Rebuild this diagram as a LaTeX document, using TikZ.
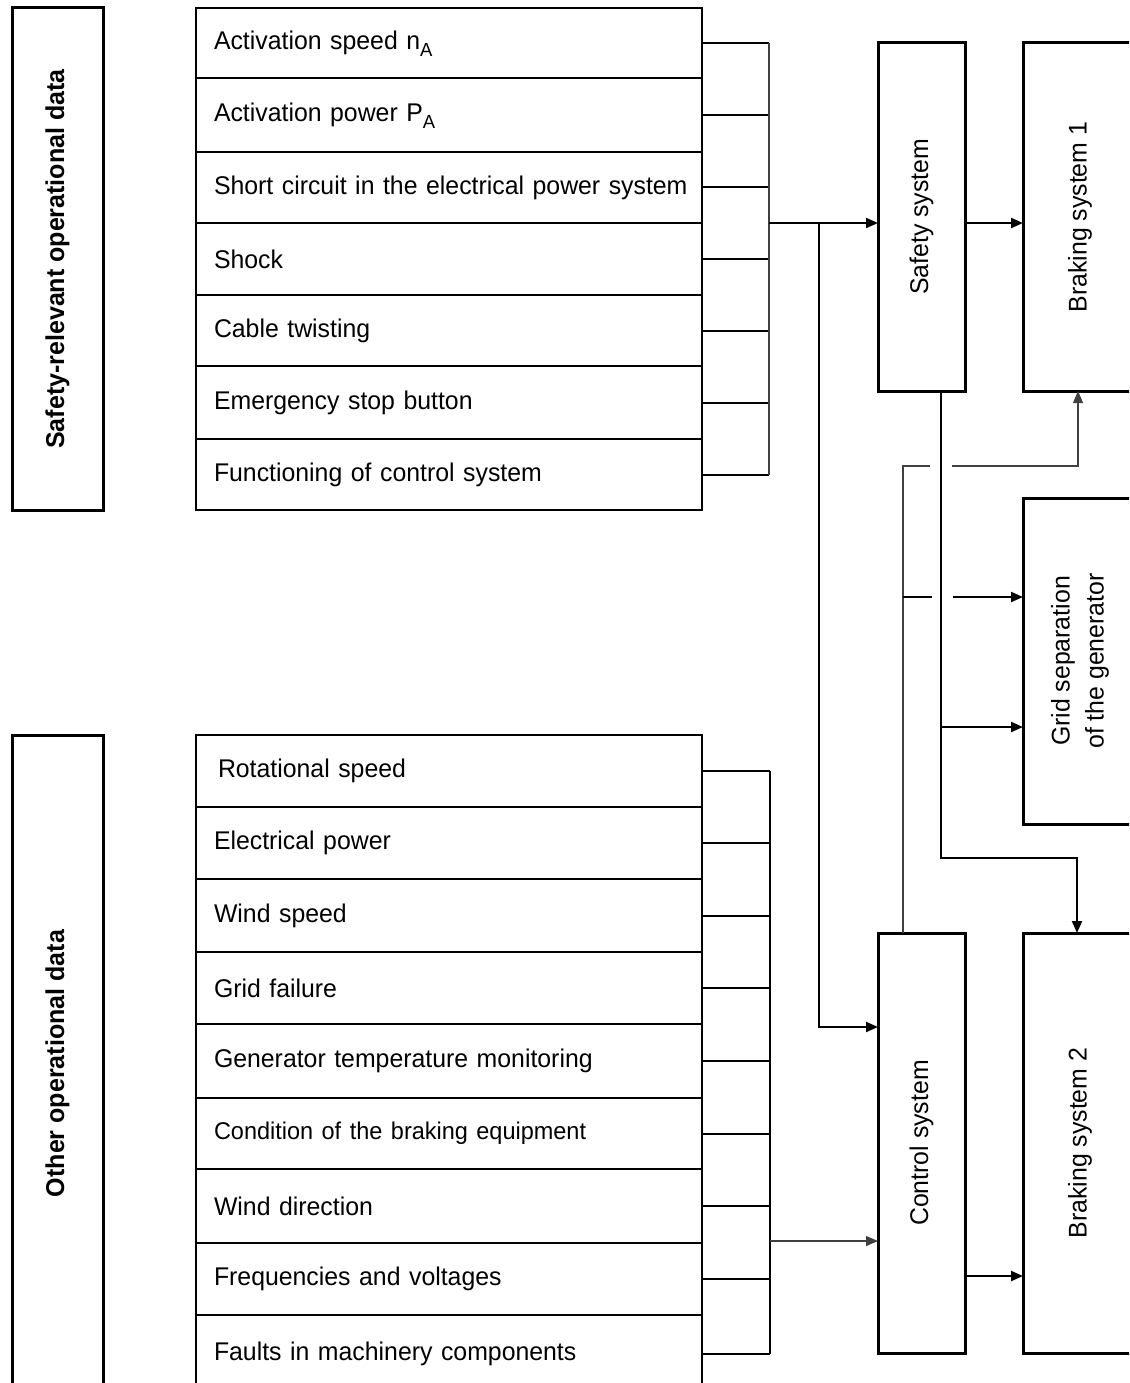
\documentclass[tikz,border=0pt]{standalone}
\usepackage{fontspec}
\setmainfont{Liberation Sans}[FakeStretch=0.97]
\usetikzlibrary{arrows.meta}
\newcommand{\subA}{\raisebox{-7pt}[0pt][0pt]{\fontsize{19}{19}\selectfont A}}
\begin{document}
\begin{tikzpicture}[x=1pt,y=-1pt,
  txt/.style={font=\fontsize{25.6}{34}\selectfont},
  grp/.style={font=\fontsize{25.8}{30}\selectfont\bfseries},
  rowbox/.style={draw, line width=2.5pt, anchor=west, text width=470pt,
    align=left, inner xsep=18pt, inner ysep=0pt, outer sep=0pt,
    minimum height=#1, txt},
  sidebox/.style={draw, line width=3pt, inner sep=0pt, outer sep=0pt},
  wire/.style={line width=2pt},
  thinwire/.style={line width=1.2pt, black!75},
  arr/.style={-{Triangle[length=12pt,width=10pt]}},
]
\useasboundingbox (0,0) rectangle (1129,1383);
\clip (0,0) rectangle (1129,1383);

% group captions on the left
\node[sidebox, minimum width=91pt, minimum height=502pt,
  label={[rotate=90, grp]center:Safety-relevant operational data}] (gsafe) at (57.5,259) {};
\node[sidebox, minimum width=91pt, minimum height=657pt,
  label={[rotate=90, grp]center:Other operational data}] (gother) at (57.5,1063.5) {};

% safety-relevant inputs
\node[rowbox=70pt] (s1) at (196,43)    {Activation speed n\subA};
\node[rowbox=74pt] (s2) at (196,115)   {Activation power P\subA};
\node[rowbox=71pt] (s3) at (196,187.5) {\mbox{Short circuit in the electrical power system}};
\node[rowbox=72pt] (s4) at (196,259)   {Shock};
\node[rowbox=71pt] (s5) at (196,330.5) {Cable twisting};
\node[rowbox=73pt] (s6) at (196,402.5) {Emergency stop button};
\node[rowbox=71pt] (s7) at (196,474.5) {Functioning of control system};

% other operational inputs
\node[rowbox=72pt] (o1) at (196,771)    {\hspace*{4pt}Rotational speed};
\node[rowbox=72pt] (o2) at (196,843)    {Electrical power};
\node[rowbox=73pt] (o3) at (196,915.5)  {Wind speed};
\node[rowbox=72pt] (o4) at (196,988)    {Grid failure};
\node[rowbox=74pt] (o5) at (196,1061)   {Generator temperature monitoring};
\node[rowbox=71pt] (o6) at (196,1133.5) {\fontsize{24.2}{30}\selectfont Condition of the braking equipment};
\node[rowbox=74pt] (o7) at (196,1206)   {Wind direction};
\node[rowbox=72pt] (o8) at (196,1279)   {Frequencies and voltages};
\node[rowbox=77pt] (o9) at (196,1353.5) {Faults in machinery components};

% system blocks
\node[sidebox, minimum width=87pt, minimum height=348pt,
  label={[rotate=90, txt]center:Safety system}] (safe) at (921.5,217) {};
\node[sidebox, minimum width=114pt, minimum height=348pt,
  label={[rotate=90, txt]center:Braking system 1}] (brk1) at (1080,217) {};
\node[sidebox, minimum width=114pt, minimum height=326pt,
  label={[rotate=90, txt, align=center]center:Grid separation\\of the generator}] (grid) at (1080,661) {};
\node[sidebox, minimum width=87pt, minimum height=420pt,
  label={[rotate=90, txt]center:Control system}] (ctrl) at (921.5,1143) {};
\node[sidebox, minimum width=114pt, minimum height=420pt,
  label={[rotate=90, txt]center:Braking system 2}] (brk2) at (1080,1143) {};

% collecting bus of the safety-relevant inputs
\coordinate (tb) at (769,0);
\foreach \i in {1,...,7} \draw[wire] (s\i.east) -- (s\i.east -| tb);
\draw[thinwire] (s1.east -| tb) -- (s7.east -| tb);
\coordinate (tj) at (769,223);
\coordinate (tk) at (819,223);
\coordinate (tc) at (819,1027);
\draw[wire,arr] (tj) -- (tj -| safe.west);
\draw[wire,arr] (tk) -- (tc) -- (tc -| ctrl.west);
\draw[wire,arr] (tj -| safe.east) -- (tj -| brk1.west);

% outputs of the safety system
\coordinate (sd) at (941,0);
\coordinate (sb) at (941,858);
\coordinate (b2) at (1077,858);
\coordinate (sg) at (941,727);
\draw[wire,arr] (sd |- safe.south) -- (sb) -- (b2) -- (b2 |- brk2.north);
\draw[wire,arr] (sg) -- (sg -| grid.west);

% outputs of the control system crossing the safety line
\coordinate (cu) at (903,466);
\coordinate (g1a) at (930,466);
\coordinate (g1b) at (952,466);
\coordinate (b1u) at (1078,466);
\coordinate (cg) at (903,597);
\coordinate (g2a) at (932,597);
\coordinate (g2b) at (953,597);
\draw[thinwire] (cu |- ctrl.north) -- (cu) -- (g1a);
\draw[thinwire,arr] (g1b) -- (b1u) -- (b1u |- brk1.south);
\draw[wire] (cg) -- (g2a);
\draw[wire,arr] (g2b) -- (g2b -| grid.west);

% collecting bus of the other inputs
\coordinate (bb) at (770,0);
\foreach \i in {1,...,9} \draw[wire] (o\i.east) -- (o\i.east -| bb);
\draw[wire] (o1.east -| bb) -- (o9.east -| bb);
\coordinate (bj) at (770,1241);
\draw[thinwire,arr] (bj) -- (bj -| ctrl.west);
\coordinate (cb) at (965,1276);
\draw[wire,arr] (ctrl.east |- cb) -- (cb -| brk2.west);
\end{tikzpicture}
\end{document}
